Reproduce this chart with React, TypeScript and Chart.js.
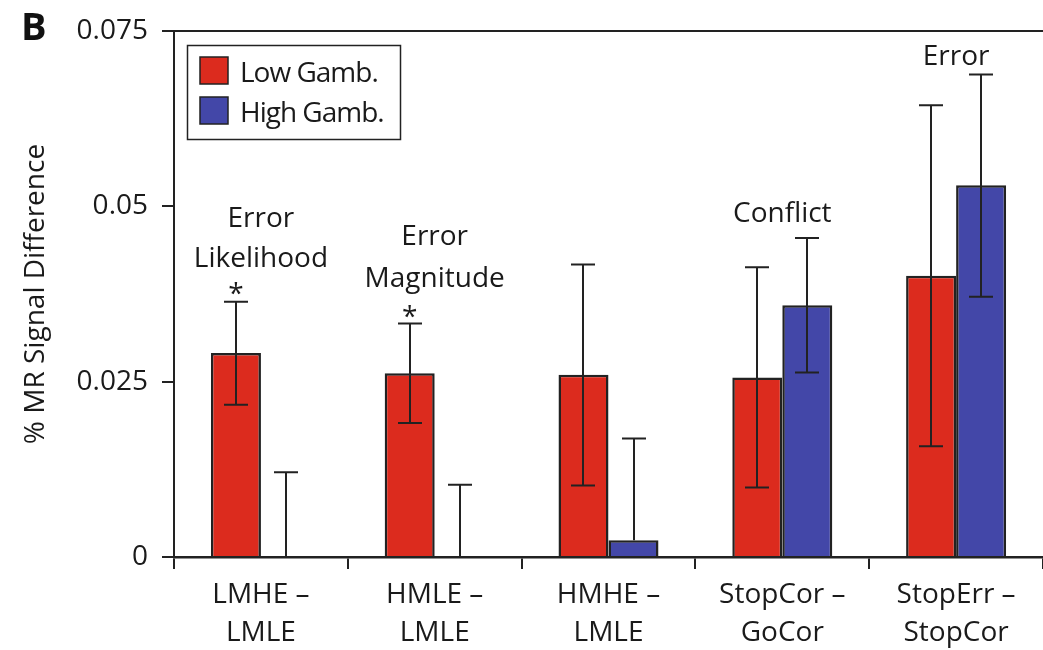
import React, { useEffect, useRef } from 'react';
import { Chart, registerables } from 'chart.js';

Chart.register(...registerables);

// ---------- data ----------
const categories: string[][] = [
  ['LMHE –', 'LMLE'],
  ['HMLE –', 'LMLE'],
  ['HMHE –', 'LMLE'],
  ['StopCor –', 'GoCor'],
  ['StopErr –', 'StopCor'],
];
const seriesNames = ['Low Gamb.', 'High Gamb.'];
const lowGamb = [0.0291, 0.0262, 0.026, 0.0256, 0.0401];
const highGamb = [0, 0, 0.0024, 0.0359, 0.053];
const lowErrUpper = [0.0364, 0.0333, 0.0417, 0.0413, 0.0644];
const lowErrLower: (number | null)[] = [0.0217, 0.0191, 0.0102, 0.0099, 0.0158];
const highErrUpper = [0.0121, 0.0103, 0.0169, 0.0455, 0.0688];
const highErrLower: (number | null)[] = [null, null, null, 0.0263, 0.0371];
const yTickValues = [0, 0.025, 0.05, 0.075];
const yTickLabels = ['0', '0.025', '0.05', '0.075'];
const yTitle = '% MR Signal Difference';
const panelLabel = 'B';
// annotation texts anchored to a category and a baseline value
const annotationTexts = ['Error', 'Likelihood', '*', 'Error', 'Magnitude', '*', 'Conflict', 'Error'];
const annotationCats = [0, 0, 0, 1, 1, 1, 3, 4];
const annotationOnLowBar = [false, false, true, false, false, true, false, false];
const annotationBaselines = [0.04706, 0.04139, 0.03622, 0.04449, 0.03854, 0.03294, 0.04777, 0.07015];

const FONT = "'Open Sans', sans-serif";
const TEXT = '#1a1a1a';
const LINE = '#222222';
const RED = '#dc2b1e';
const BLUE = '#4347a8';

const errorBarPlugin = {
  id: 'errorBars',
  afterDatasetsDraw(chart: any) {
    const ctx = chart.ctx;
    const y = chart.scales.y;
    const sets = [
      { up: lowErrUpper, lo: lowErrLower, vals: lowGamb },
      { up: highErrUpper, lo: highErrLower, vals: highGamb },
    ];
    ctx.save();
    ctx.strokeStyle = LINE;
    ctx.lineWidth = 2;
    sets.forEach((s, di) => {
      const meta = chart.getDatasetMeta(di);
      meta.data.forEach((bar: any, i: number) => {
        const x = Math.round(bar.x);
        const top = y.getPixelForValue(s.up[i]);
        const lo = s.lo[i];
        const bottom = y.getPixelForValue(lo == null ? s.vals[i] : lo);
        ctx.beginPath();
        ctx.moveTo(x, top);
        ctx.lineTo(x, bottom);
        ctx.moveTo(x - 12, top);
        ctx.lineTo(x + 12, top);
        if (lo != null) {
          ctx.moveTo(x - 12, bottom);
          ctx.lineTo(x + 12, bottom);
        }
        ctx.stroke();
      });
    });
    ctx.restore();
  },
};

const decorPlugin = {
  id: 'decor',
  afterDraw(chart: any) {
    const ctx = chart.ctx;
    const area = chart.chartArea;
    const x = chart.scales.x;
    const y = chart.scales.y;
    ctx.save();
    // annotations
    ctx.fillStyle = TEXT;
    ctx.font = `28px ${FONT}`;
    ctx.textAlign = 'center';
    ctx.textBaseline = 'alphabetic';
    annotationTexts.forEach((t, i) => {
      const c = annotationCats[i];
      const px = annotationOnLowBar[i]
        ? chart.getDatasetMeta(0).data[c].x
        : x.getPixelForValue(c);
      ctx.fillText(t, px, y.getPixelForValue(annotationBaselines[i]));
    });
    // legend box
    const bx = area.left + 13;
    const by = area.top + 14;
    ctx.strokeStyle = LINE;
    ctx.lineWidth = 1.5;
    ctx.strokeRect(bx + 0.5, by + 0.5, 213, 94);
    const colors = [RED, BLUE];
    ctx.textAlign = 'left';
    (ctx as any).letterSpacing = '-1px';
    seriesNames.forEach((n, i) => {
      const sy = by + 12 + i * 40;
      ctx.fillStyle = colors[i];
      ctx.fillRect(bx + 13, sy, 28, 27);
      ctx.strokeStyle = LINE;
      ctx.lineWidth = 1.5;
      ctx.strokeRect(bx + 13, sy, 28, 27);
      ctx.fillStyle = TEXT;
      ctx.fillText(n, bx + 53, by + 37 + i * 40);
    });
    (ctx as any).letterSpacing = '0px';
    // panel label
    ctx.font = `bold 38px ${FONT}`;
    ctx.fillStyle = '#111';
    ctx.fillText(panelLabel, 21, 40);
    ctx.restore();
  },
};

export default function App() {
  const ref = useRef<HTMLCanvasElement | null>(null);

  useEffect(() => {
    if (!ref.current) return;
    const chart = new Chart(ref.current, {
      type: 'bar',
      data: {
        labels: categories,
        datasets: [
          {
            label: seriesNames[0],
            data: lowGamb,
            backgroundColor: RED,
            borderColor: LINE,
            borderWidth: 2.5,
            borderSkipped: 'start',
            categoryPercentage: 0.5754,
            barPercentage: 1,
          },
          {
            label: seriesNames[1],
            data: highGamb,
            backgroundColor: BLUE,
            borderColor: LINE,
            borderWidth: 2.5,
            borderSkipped: 'start',
            categoryPercentage: 0.5754,
            barPercentage: 1,
          },
        ],
      },
      options: {
        responsive: false,
        maintainAspectRatio: false,
        animation: false,
        layout: { padding: { top: 31, right: 0, left: 0, bottom: 0 } },
        plugins: {
          legend: { display: false },
          tooltip: { enabled: false },
          title: { display: false },
        },
        scales: {
          x: {
            offset: true,
            grid: {
              offset: true,
              drawOnChartArea: false,
              drawTicks: true,
              tickLength: 12,
              color: LINE,
              lineWidth: 2,
            },
            border: { display: true, color: LINE, width: 2.5 },
            ticks: {
              color: TEXT,
              font: { family: FONT, size: 28, lineHeight: 38 / 28 },
              padding: 7,
              maxRotation: 0,
              autoSkip: false,
            },
            afterFit: (s: any) => {
              s.height = 93;
            },
          },
          y: {
            min: 0,
            max: 0.075,
            afterBuildTicks: (s: any) => {
              s.ticks = yTickValues.map((v) => ({ value: v }));
            },
            grid: {
              color: (c: any) => (c.tick && Math.abs(c.tick.value - 0.075) < 1e-9 ? LINE : 'rgba(0,0,0,0)'),
              tickColor: LINE,
              lineWidth: 2,
              tickLength: 12,
              drawTicks: true,
            },
            border: { display: true, color: LINE, width: 2 },
            ticks: {
              color: TEXT,
              font: { family: FONT, size: 28 },
              padding: 14,
              callback: (v: any) => {
                const idx = yTickValues.findIndex((t) => Math.abs(t - Number(v)) < 1e-9);
                return idx >= 0 ? yTickLabels[idx] : '';
              },
            },
            title: {
              display: true,
              text: yTitle,
              color: TEXT,
              font: { family: FONT, size: 28 },
              padding: { top: 19, bottom: 0 },
            },
            afterFit: (s: any) => {
              s.width = 174;
            },
          },
        },
      },
      plugins: [errorBarPlugin, decorPlugin],
    });
    return () => chart.destroy();
  }, []);

  return (
    <div style={{ position: 'fixed', left: 0, top: 0, width: 1043, height: 650, background: '#fff' }}>
      <canvas ref={ref} width={1043} height={650} style={{ width: 1043, height: 650, display: 'block' }} />
    </div>
  );
}
